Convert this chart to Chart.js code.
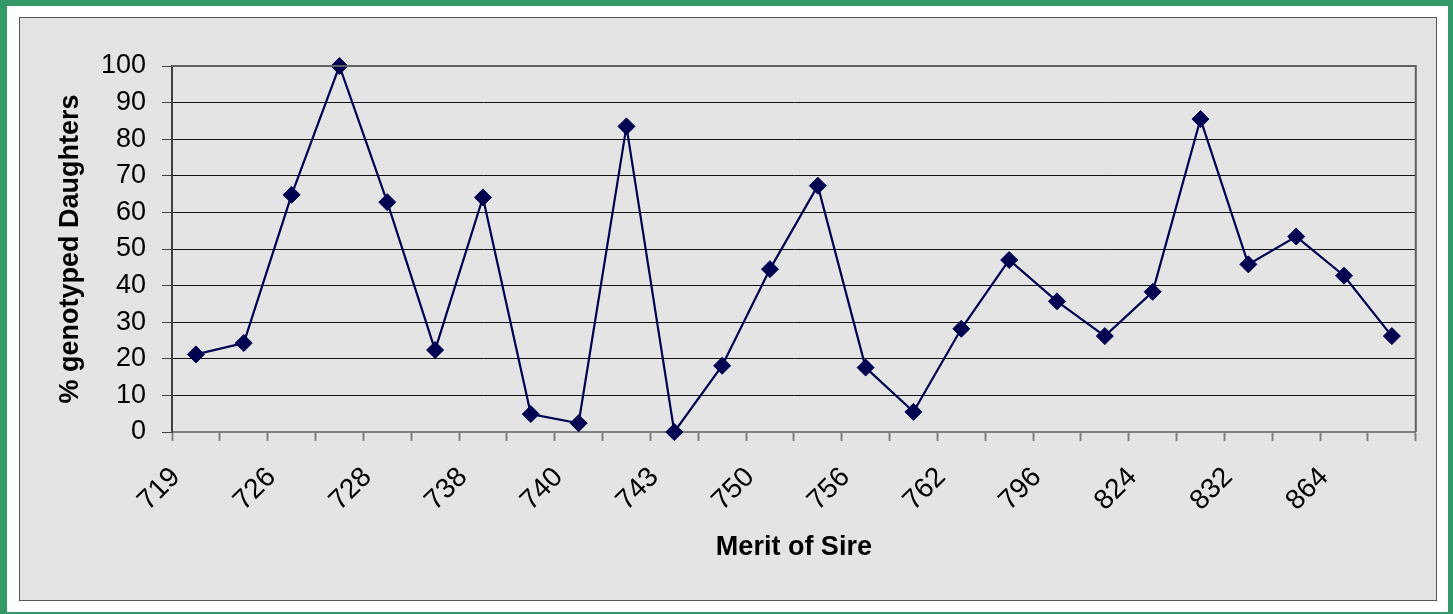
<!DOCTYPE html>
<html>
<head>
<meta charset="utf-8">
<script src="https://cdn.jsdelivr.net/npm/chart.js@4/dist/chart.umd.min.js"></script>
<style>
	html, body { margin: 0; padding: 0; }
	body { width: 1453px; height: 614px; background: #339966; position: relative; overflow: hidden; }
	#paper { position: absolute; left: 7px; top: 6px; width: 1441px; height: 606px; background: #ffffff; }
	#frame { position: absolute; left: 19px; top: 17px; width: 1416px; height: 582px; background: #e4e4e4; border: 1px solid #555555; }
	#chart { display: block; }
</style>
</head>
<body>
<div id="paper"></div>
<div id="frame"><canvas id="chart" width="1416" height="582"></canvas></div>
<script>
// merit of sire, one entry per point; only every other label is printed on the axis
var categories = ['719', '', '726', '', '728', '', '738', '', '740', '', '743', '', '750', '', '756', '', '762', '', '796', '', '824', '', '832', '', '864', ''];

// % genotyped daughters
var pctDaughters = [21.2, 24.3, 64.8, 100, 62.8, 22.4, 64.1, 4.9, 2.4, 83.5, 0, 18.1, 44.5, 67.3, 17.6, 5.5, 28.2, 47.0, 35.7, 26.2, 38.3, 85.5, 45.8, 53.4, 42.7, 26.2];

var yTicks = [0, 10, 20, 30, 40, 50, 60, 70, 80, 90, 100];

var navy = '#000050';
var fontFamily = "'Liberation Sans', Arial, sans-serif";

// thin grey frame round the plot area, like the excel one
var plotFrame = {
	id: 'plotFrame',
	afterDatasetsDraw: function(chart){
		var a = chart.chartArea;
		var ctx = chart.ctx;
		ctx.save();
		ctx.strokeStyle = '#606060';
		ctx.lineWidth = 2;
		ctx.beginPath();
		ctx.moveTo(a.left, a.top);
		ctx.lineTo(a.right, a.top);
		ctx.lineTo(a.right, a.bottom);
		ctx.stroke();
		ctx.restore();
	}
};

var chart = new Chart(document.getElementById('chart').getContext('2d'), {
	type: 'line',
	data: {
		labels: categories,
		datasets: [{
			data: pctDaughters,
			borderColor: navy,
			backgroundColor: navy,
			borderWidth: 2.2,
			tension: 0,
			pointStyle: 'rectRot',
			pointRadius: 8.5,
			pointBorderWidth: 1,
			pointBackgroundColor: navy,
			pointBorderColor: navy,
			clip: false
		}]
	},
	options: {
		responsive: false,
		animation: false,
		devicePixelRatio: 1,
		layout: { padding: { left: 0, top: 48, right: 20, bottom: 0 } },
		plugins: {
			legend: { display: false },
			tooltip: { enabled: false }
		},
		scales: {
			x: {
				type: 'category',
				offset: true,
				afterFit: function(scale){ scale.height = 168; },
				border: { display: true, color: '#808080', width: 2 },
				grid: {
					offset: true,
					drawOnChartArea: false,
					drawTicks: true,
					tickLength: 9,
					tickColor: '#808080',
					tickWidth: 2
				},
				ticks: {
					autoSkip: false,
					minRotation: 45,
					maxRotation: 45,
					padding: 20,
					labelOffset: -20,
					color: '#000000',
					font: { family: fontFamily, size: 28 }
				},
				title: {
					display: true,
					text: 'Merit of Sire',
					color: '#000000',
					font: { family: fontFamily, size: 27, weight: 'bold' },
					padding: { top: 0, bottom: 36 }
				}
			},
			y: {
				min: 0,
				max: 100,
				afterFit: function(scale){ scale.width = 152; },
				afterBuildTicks: function(scale){
					scale.ticks = yTicks.map(function(v){ return { value: v }; });
				},
				border: { display: true, color: '#404040', width: 2 },
				grid: {
					color: '#111111',
					lineWidth: 1,
					drawTicks: true,
					tickLength: 10,
					tickColor: '#404040',
					tickWidth: 1
				},
				ticks: {
					padding: 16,
					color: '#000000',
					font: { family: fontFamily, size: 27 }
				},
				title: {
					display: true,
					text: '% genotyped Daughters',
					color: '#000000',
					font: { family: fontFamily, size: 27, weight: 'bold' },
					padding: { top: 34, bottom: 0 }
				}
			}
		}
	},
	plugins: [plotFrame]
});
</script>
</body>
</html>
